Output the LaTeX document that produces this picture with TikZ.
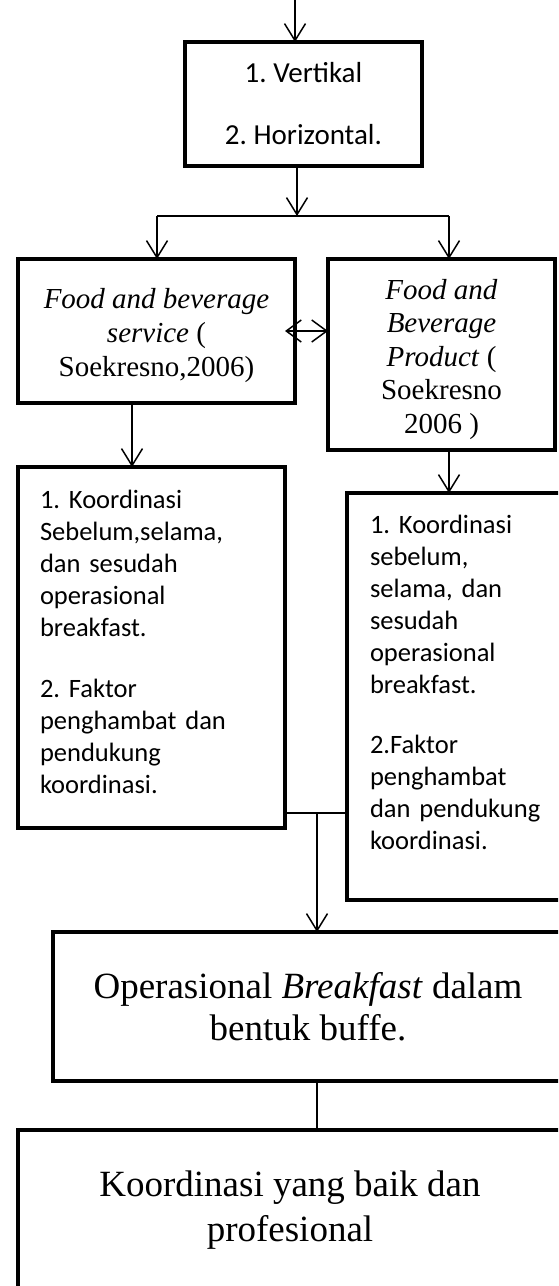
\documentclass[tikz,border=0pt]{standalone}
\usepackage{fontspec}
\setmainfont{Liberation Serif}
\newfontfamily\calfont{Carlito}
\usetikzlibrary{arrows.meta,calc}
\frenchspacing
\begin{document}
\begin{tikzpicture}[x=1pt,y=-1pt,
  box/.style={draw, line width=4.5pt, outer sep=0pt, inner sep=4pt},
  conn/.style={line width=1.5pt},
  arr/.style={conn, -{Straight Barb[length=17pt,width=21pt]}},
  darr/.style={conn, {Straight Barb[length=15pt,width=22pt]}-{Straight Barb[length=15pt,width=22pt]}},
  calA/.style={font=\calfont\fontsize{29}{35}\selectfont},
  calB/.style={font=\calfont\fontsize{26.5}{32}\selectfont},
  serA/.style={font=\fontsize{29}{34}\selectfont},
  serB/.style={font=\fontsize{37}{42}\selectfont}
]
\useasboundingbox (0,0) rectangle (558,1286);
\clip (0,0) rectangle (558,1286);

% boxes
\node[box, calA, align=center, minimum width=237pt, minimum height=124pt] (v) at (303.5,104)
  {1. Vertikal\\[27pt]2. Horizontal.};
\node[box, serA, align=center, minimum width=277pt, minimum height=144pt] (fbs) at (156.5,331)
  {\mbox{}\\[-4pt]\textit{Food and beverage}\\\textit{service} (\\Soekresno,2006)};
\node[box, align=center, minimum width=227pt, minimum height=191pt, font=\fontsize{29}{33.5}\selectfont] (fbp) at (441.5,354.5)
  {\mbox{}\\[-4pt]\textit{Food and}\\\textit{Beverage}\\\textit{Product} (\\Soekresno\\2006 )};
\node[box, calB, align=left, text width=223pt, inner xsep=22pt,
  minimum width=267pt, minimum height=361pt] (kl) at (151.5,647.5)
  {1. Koordinasi\\Sebelum,selama,\\dan sesudah\\operasional\\breakfast.\\[29pt]2. Faktor\\penghambat dan\\pendukung\\koordinasi.\\[-20pt]\mbox{}};
\node[box, calB, align=left, text width=207pt, inner xsep=23pt,
  minimum width=253pt, minimum height=407pt] (kr) at (473.5,696.5)
  {1. Koordinasi\\sebelum,\\selama, dan\\sesudah\\operasional\\breakfast.\\[28pt]2.Faktor\\penghambat\\dan pendukung\\koordinasi.\\[-4pt]\mbox{}};
\node[box, serB, align=center, minimum width=510pt, minimum height=149pt] (op) at (308,1006.5)
  {Operasional \textit{Breakfast} dalam\\bentuk buffe.};
\node[box, align=center, font=\fontsize{37}{45}\selectfont, minimum width=544pt, minimum height=160pt] (kb) at (290,1210)
  {Koordinasi yang baik dan\\profesional};

% connectors
\coordinate (in) at (295,0);
\draw[arr] (in) -- (in |- v.north);
\coordinate (split) at (297,216);
\draw[arr] (v.south -| split) -- (split);
\coordinate (sl) at (157,216);
\coordinate (sr) at (449,216);
\draw[conn] (sl) -- (sr);
\draw[arr] (sl) -- (sl |- fbs.north);
\draw[arr] (sr) -- (sr |- fbp.north);
\draw[darr] ([xshift=-10pt]fbs.east) -- (fbp.west |- fbs.east);
\coordinate (f1) at ([xshift=-24.5pt]fbs.south);
\draw[arr] (f1) -- (f1 |- kl.north);
\coordinate (f2) at ([xshift=7.5pt]fbp.south);
\draw[arr] (f2) -- (f2 |- kr.north);
\coordinate (j) at (317,813);
\draw[conn] (j -| kl.east) -- (j -| kr.west);
\draw[arr] (j) -- (j |- op.north);
\draw[conn] (op.south -| j) -- (kb.north -| j);
\end{tikzpicture}
\end{document}
